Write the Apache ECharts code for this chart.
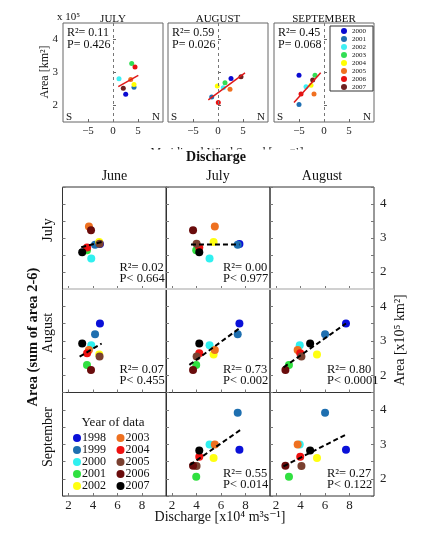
<!DOCTYPE html>
<html><head><meta charset="utf-8">
<script src="https://cdn.jsdelivr.net/npm/echarts@6/dist/echarts.min.js"></script>
<style>html,body{margin:0;padding:0;background:#fff}#c{width:422px;height:534px}</style>
</head><body><div id="c"></div><script>
// ---------------- DATA: top panels (meridional wind vs area) ----------------
const topMonths = ['JULY', 'AUGUST', 'SEPTEMBER'];
const topYears = ['2000', '2001', '2002', '2003', '2004', '2005', '2006', '2007'];
const windJuly = [2.54, 4.2, 1.2, 3.74, 4.2, 3.54, 4.4, 2.06];
const areaTopJuly = [2.34, 2.55, 2.81, 3.27, 2.64, 2.79, 3.17, 2.52];
const windAug = [2.6, -1.26, 1.06, 1.4, -0.14, 2.4, 0.06, 4.6];
const areaTopAug = [2.82, 2.26, 2.54, 2.69, 2.59, 2.49, 2.09, 2.87];
const windSep = [-5.0, -5.0, -3.6, -1.8, -2.6, -2.0, -4.6, -2.26];
const areaTopSep = [2.92, 2.03, 2.57, 2.92, 2.61, 2.35, 2.35, 2.77];
const topFitJuly = [[1.06, 2.57], [5.06, 2.91]];
const topFitAug = [[-1.94, 2.17], [5.4, 2.99]];
const topFitSep = [[-6.0, 2.09], [-0.66, 2.99]];
const topR2 = ['0.11', '0.59', '0.45'];
const topP = ['0.426', '0.026', '0.068'];
const topXTicks = [-5, 0, 5];
const topYTicks = [2, 3, 4];

// ---------------- DATA: bottom panels (discharge vs area) ----------------
const years = ['1998', '1999', '2000', '2001', '2002', '2003', '2004', '2005', '2006', '2007'];
const dischargeJune = [4.56, 4.16, 3.85, 3.5, 4.5, 3.66, 3.51, 4.53, 3.83, 3.11];
const dischargeJuly = [7.5, 7.36, 5.06, 3.97, 5.39, 5.49, 4.22, 4.0, 3.71, 4.22];
const dischargeAug = [7.71, 6.0, 3.93, 3.05, 5.34, 3.76, 3.97, 4.07, 2.76, 4.78];
const areaJuly = [2.82, 2.8, 2.4, 2.64, 2.88, 3.34, 2.72, 2.83, 3.23, 2.58];
const areaAug = [3.5, 3.19, 2.87, 2.3, 2.6, 2.73, 2.64, 2.54, 2.15, 2.92];
const areaSep = [2.84, 3.91, 2.99, 2.06, 2.6, 2.99, 2.64, 2.37, 2.38, 2.82];
const fitJuneJuly = [[3.03, 2.73], [4.8, 2.89]];
const fitJulyJuly = [[3.54, 2.81], [7.5, 2.81]];
const fitJuneAug = [[2.9, 2.54], [4.7, 2.92]];
const fitJulyAug = [[3.41, 2.3], [7.5, 3.36]];
const fitAugAug = [[2.61, 2.23], [7.71, 3.5]];
const fitJulySep = [[3.46, 2.4], [7.6, 3.42]];
const fitAugSep = [[2.6, 2.36], [7.71, 3.28]];
const bottomR2 = ['0.02', '0.00', '0.07', '0.73', '0.80', '0.55', '0.27'];
const bottomP = ['0.664', '0.977', '0.455', '0.002', '0.0001', '0.014', '0.122'];
const colNames = ['June', 'July', 'August'];
const rowNames = ['July', 'August', 'September'];
const dischargeTicks = [2, 4, 6, 8];
const areaTicks = [2, 3, 4];

// ---------------- styles ----------------
const SERIF = '"Liberation Serif", "DejaVu Serif", serif';
const topColors = ['#0a0ad2', '#1f6fb2', '#3ff0f4', '#33dd55', '#ffff00', '#f07020', '#e81010', '#702020'];
const yearColors = ['#0a10d8', '#1e6fb0', '#30f0f0', '#30e040', '#ffff10', '#ee7020', '#ee1010', '#7a4030', '#6a0c0c', '#000000'];

const topLeft = [63, 168, 274], topW = 100, topTop = 23, topH = 99;
const colLeft = [62.5, 166, 270], colW = 104;
const rowTop = [187, 289, 392.5], rowH = [102, 103.5, 103.5];

const grid = [], xAxis = [], yAxis = [], series = [], graphic = [];
function txt(x, y, text, o) {
  o = o || {};
  graphic.push({
    type: 'text', x: x, y: y, rotation: o.rot || 0, z: 100,
    style: {
      text: text, fill: o.color || '#111', font: (o.weight || 'normal') + ' ' + (o.size || 12) + 'px ' + SERIF,
      textAlign: o.align || 'center', textVerticalAlign: o.va || 'middle'
    }
  });
}

// ---- top panels
const topWind = [windJuly, windAug, windSep];
const topArea = [areaTopJuly, areaTopAug, areaTopSep];
const topFits = [topFitJuly, topFitAug, topFitSep];
for (let i = 0; i < 3; i++) {
  grid.push({ left: topLeft[i], top: topTop, width: topW, height: topH, show: true, borderColor: '#666', borderWidth: 1, outerBoundsMode: 'none', containLabel: false });
  xAxis.push({
    gridIndex: i, type: 'value', min: -10, max: 10, interval: 5,
    axisLine: { show: false }, splitLine: { show: false },
    axisTick: { show: true, inside: true, length: 3, customValues: topXTicks, lineStyle: { color: '#666' } },
    axisLabel: { customValues: topXTicks, fontFamily: SERIF, fontSize: 11, color: '#222', margin: 4, formatter: v => v < 0 ? '\u2212' + (-v) : String(v) }
  });
  yAxis.push({
    gridIndex: i, type: 'value', min: 1.5, max: 4.5, interval: 0.5,
    axisLine: { show: false }, splitLine: { show: false },
    axisTick: { show: true, inside: true, length: 3, customValues: topYTicks, lineStyle: { color: '#666' } },
    axisLabel: { show: i === 0, customValues: topYTicks, fontFamily: SERIF, fontSize: 11, color: '#222', margin: 5 }
  });
}
for (let i = 0; i < 3; i++) {
  topYears.forEach((yr, k) => {
    series.push({
      type: 'scatter', name: 'T' + yr, xAxisIndex: i, yAxisIndex: i, symbolSize: 5,
      itemStyle: { color: topColors[k], opacity: 1 }, data: [[topWind[i][k], topArea[i][k]]], z: 3
    });
  });
  series.push({
    type: 'line', xAxisIndex: i, yAxisIndex: i, data: topFits[i], symbol: 'none', z: 4,
    lineStyle: { color: '#e01818', width: 1.5 },
    markLine: { silent: true, symbol: 'none', label: { show: false }, lineStyle: { type: [3, 3], color: '#777', width: 1 }, data: [{ xAxis: 0 }] }
  });
  txt(topLeft[i] + (topW / 2), 19, topMonths[i], { size: 11 });
  txt(topLeft[i] + 4, 33, 'R\u00b2= ' + topR2[i], { align: 'left', size: 12 });
  txt(topLeft[i] + 4, 44.5, 'P= ' + topP[i], { align: 'left', size: 12 });
  txt(topLeft[i] + 3, 117, 'S', { align: 'left', size: 11 });
  txt(topLeft[i] + topW - 3, 117, 'N', { align: 'right', size: 11 });
}
txt(57, 17, 'x 10\u2075', { align: 'left', size: 11 });
txt(45, 72, 'Area [km\u00b2]', { rot: Math.PI / 2, size: 12 });
txt(227, 146.5, 'Meridional Wind Speed [m s\u207b\u00b9]', { size: 12, va: 'top' });
graphic.push({ type: 'rect', shape: { x: 120, y: 149.5, width: 220, height: 20 }, style: { fill: '#fff' }, z: 101 });
graphic.push({ type: 'text', x: 216, y: 157, z: 102, style: { text: 'Discharge', fill: '#111', font: 'bold 14px ' + SERIF, textAlign: 'center', textVerticalAlign: 'middle' } });

// ---- bottom panels
const panels = [
  { r: 0, c: 0, x: dischargeJune, y: areaJuly, fit: fitJuneJuly, s: 0 },
  { r: 0, c: 1, x: dischargeJuly, y: areaJuly, fit: fitJulyJuly, s: 1 },
  { r: 1, c: 0, x: dischargeJune, y: areaAug, fit: fitJuneAug, s: 2 },
  { r: 1, c: 1, x: dischargeJuly, y: areaAug, fit: fitJulyAug, s: 3 },
  { r: 1, c: 2, x: dischargeAug, y: areaAug, fit: fitAugAug, s: 4 },
  { r: 2, c: 1, x: dischargeJuly, y: areaSep, fit: fitJulySep, s: 5 },
  { r: 2, c: 2, x: dischargeAug, y: areaSep, fit: fitAugSep, s: 6 }
];
for (let r = 0; r < 3; r++) {
  for (let c = 0; c < 3; c++) {
    const gi = 3 + r * 3 + c;
    grid.push({ left: colLeft[c], top: rowTop[r], width: colW, height: rowH[r], show: true, borderColor: '#333', borderWidth: 1, outerBoundsMode: 'none', containLabel: false });
    xAxis.push({
      gridIndex: gi, type: 'value', min: 1.5, max: 10,
      axisLine: { show: false }, splitLine: { show: false },
      axisTick: { show: true, inside: true, length: 3, customValues: dischargeTicks, lineStyle: { color: '#777' } },
      axisLabel: { show: r === 2, customValues: dischargeTicks, fontFamily: SERIF, fontSize: 13, color: '#222', margin: 3 }
    });
    yAxis.push({
      gridIndex: gi, type: 'value', min: 1.5, max: 4.5, interval: 0.5,
      axisLine: { show: false }, splitLine: { show: false },
      axisTick: { show: true, inside: true, length: 3, lineStyle: { color: '#777' } },
      axisLabel: { show: false }
    });
  }
}
for (let r = 0; r < 3; r++) {
  yAxis.push({
    gridIndex: 3 + r * 3 + 2, type: 'value', position: 'right', min: 1.5, max: 4.5, interval: 0.5,
    axisLine: { show: false }, splitLine: { show: false },
    axisTick: { show: true, inside: true, length: 3, lineStyle: { color: '#777' } },
    axisLabel: { customValues: areaTicks, fontFamily: SERIF, fontSize: 13, color: '#222', margin: 6 }
  });
}
panels.forEach(p => {
  const gi = 3 + p.r * 3 + p.c;
  years.forEach((yr, k) => {
    series.push({
      type: 'scatter', name: 'B' + yr, xAxisIndex: gi, yAxisIndex: gi, symbolSize: 8,
      itemStyle: { color: yearColors[k], opacity: 1 }, data: [[p.x[k], p.y[k]]], z: 3
    });
  });
  series.push({
    type: 'line', xAxisIndex: gi, yAxisIndex: gi, data: p.fit, symbol: 'none', z: 4,
    lineStyle: { color: '#000', width: 2, type: [5, 3] }
  });
  txt(colLeft[p.c] + 57, rowTop[p.r] + 81, 'R\u00b2= ' + bottomR2[p.s], { align: 'left', size: 12.5 });
  txt(colLeft[p.c] + 57, rowTop[p.r] + 92, 'P< ' + bottomP[p.s], { align: 'left', size: 12.5 });
});
colNames.forEach((n, c) => txt(colLeft[c] + colW / 2, 176, n, { size: 14 }));
const rowLabelY = [230, 333, 437];
rowNames.forEach((n, r) => txt(48, rowLabelY[r], n, { size: 14, rot: Math.PI / 2 }));
txt(33, 337, 'Area (sum of area 2-6)', { size: 14.5, weight: 'bold', rot: Math.PI / 2 });
txt(400, 340, 'Area [x10\u2075 km\u00b2]', { size: 14, rot: Math.PI / 2 });
txt(220, 517, 'Discharge [x10\u2074 m\u00b3s\u207b\u00b9]', { size: 14 });
txt(113, 423, 'Year of data', { size: 13 });
graphic.push({ type: 'line', shape: { x1: 63, y1: 289, x2: 373.5, y2: 289 }, style: { stroke: '#fff', lineWidth: 1.5 }, z: 90 });
graphic.push({ type: 'line', shape: { x1: 63, y1: 289, x2: 373.5, y2: 289 }, style: { stroke: '#c8c8c8', lineWidth: 1 }, z: 91 });

const legend = [
  {
    data: topYears.map(y => 'T' + y), formatter: n => n.slice(1), orient: 'vertical', left: 330, top: 26,
    icon: 'circle', itemWidth: 6, itemHeight: 6, itemGap: 0, padding: [1, 7, 0, 11], selectedMode: false,
    backgroundColor: '#fff', borderColor: '#333', borderWidth: 1,
    textStyle: { fontFamily: SERIF, fontSize: 7, lineHeight: 8, color: '#111' }
  },
  {
    data: years.slice(0, 5).map(y => 'B' + y), formatter: n => n.slice(1), orient: 'vertical', left: 73, top: 432,
    icon: 'circle', itemWidth: 8, itemHeight: 8, itemGap: 0, padding: 0, selectedMode: false,
    textStyle: { fontFamily: SERIF, fontSize: 12, lineHeight: 11, color: '#111', padding: [0, 0, 0, -4] }
  },
  {
    data: years.slice(5).map(y => 'B' + y), formatter: n => n.slice(1), orient: 'vertical', left: 116.5, top: 432,
    icon: 'circle', itemWidth: 8, itemHeight: 8, itemGap: 0, padding: 0, selectedMode: false,
    textStyle: { fontFamily: SERIF, fontSize: 12, lineHeight: 11, color: '#111', padding: [0, 0, 0, -4] }
  }
];

const chart = echarts.init(document.getElementById('c'), null, { renderer: 'canvas' });
chart.setOption({
  backgroundColor: '#fff', animation: false,
  textStyle: { fontFamily: SERIF },
  grid, xAxis, yAxis, series, legend, graphic
});
</script></body></html>
